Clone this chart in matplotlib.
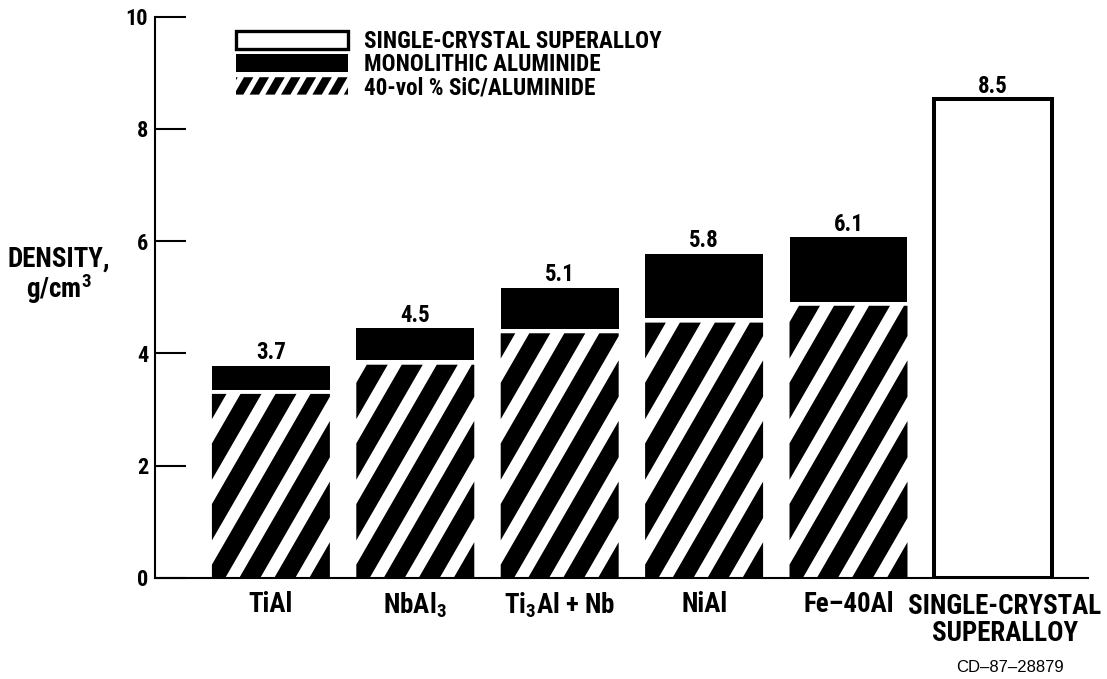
import matplotlib
matplotlib.use('Agg')
import numpy as np
import matplotlib.pyplot as plt
import matplotlib.transforms as mtransforms
from matplotlib import font_manager as fm
from matplotlib.patches import Polygon, Patch
from matplotlib.legend_handler import HandlerBase

# ---------------- data ----------------
categories = ["TiAl", "NbAl$_3$", "Ti$_3$Al + Nb", "NiAl", "Fe\u201340Al",
              "SINGLE-CRYSTAL\nSUPERALLOY"]
monolithic = [3.78, 4.45, 5.17, 5.77, 6.07]      # monolithic aluminide density
composite = [3.28, 3.80, 4.36, 4.55, 4.85]       # 40-vol % SiC/aluminide density
superalloy = [8.53]                               # single-crystal superalloy
value_labels = ["3.7", "4.5", "5.1", "5.8", "6.1", "8.5"]
yticks = [0, 2, 4, 6, 8, 10]
legend_labels = ["SINGLE-CRYSTAL SUPERALLOY", "MONOLITHIC ALUMINIDE",
                 "40-vol % SiC/ALUMINIDE"]

# ---------------- fonts (condensed bold if available) ----------------
entries = fm.fontManager.ttflist
names = {f.name for f in entries}
STRETCH = 'normal'
if 'Liberation Sans Narrow' in names:
    COND, K_NUM, K_TXT, K_LEG = 'Liberation Sans Narrow', 1.0, 1.0, 1.0
elif 'Roboto Condensed' in names:
    COND, K_NUM, K_TXT, K_LEG = 'Roboto Condensed', 0.97, 1.05, 1.0
elif 'Open Sans Condensed' in names:
    COND, K_NUM, K_TXT, K_LEG = 'Open Sans Condensed', 0.95, 1.0, 0.95
elif any(f.name == 'DejaVu Sans' and f.stretch == 'condensed' for f in entries):
    COND, K_NUM, K_TXT, K_LEG = 'DejaVu Sans', 0.86, 0.9, 0.8
    STRETCH = 'condensed'
else:
    COND, K_NUM, K_TXT, K_LEG = 'Liberation Sans', 0.9, 0.84, 0.85

plt.rcParams['font.family'] = [COND, 'DejaVu Sans']
plt.rcParams['font.weight'] = 'bold'
plt.rcParams['font.stretch'] = STRETCH
spec = f'{COND}:bold' + (':condensed' if STRETCH == 'condensed' else '')
plt.rcParams['mathtext.fontset'] = 'custom'
for k in ['rm', 'bf', 'it', 'sf']:
    plt.rcParams[f'mathtext.{k}'] = spec


# ---------------- helpers for slanted stripe fill ----------------
def clip_poly(poly, xmin, xmax, ymin, ymax):
    def clip(pts, inside, inter):
        out = []
        for i in range(len(pts)):
            cur, prev = pts[i], pts[i - 1]
            if inside(cur):
                if not inside(prev):
                    out.append(inter(prev, cur))
                out.append(cur)
            elif inside(prev):
                out.append(inter(prev, cur))
        return out

    def ix(p, q, x):
        t = (x - p[0]) / (q[0] - p[0])
        return (x, p[1] + t * (q[1] - p[1]))

    def iy(p, q, y):
        t = (y - p[1]) / (q[1] - p[1])
        return (p[0] + t * (q[0] - p[0]), y)

    pts = list(poly)
    edges = [
        (lambda p: p[0] >= xmin, lambda p, q: ix(p, q, xmin)),
        (lambda p: p[0] <= xmax, lambda p, q: ix(p, q, xmax)),
        (lambda p: p[1] >= ymin, lambda p, q: iy(p, q, ymin)),
        (lambda p: p[1] <= ymax, lambda p, q: iy(p, q, ymax)),
    ]
    for inside, inter in edges:
        if not pts:
            break
        pts = clip(pts, inside, inter)
    return pts


def stripes(width, height, period, black, angle_deg, phase=0.0):
    shift = height / np.tan(np.radians(angle_deg))
    polys = []
    kmin = int(np.floor((-shift - black - phase) / period)) - 1
    kmax = int(np.ceil((width - phase) / period)) + 1
    for k in range(kmin, kmax + 1):
        x0 = phase + k * period
        quad = [(x0, 0), (x0 + black, 0), (x0 + black + shift, height),
                (x0 + shift, height)]
        c = clip_poly(quad, 0, width, 0, height)
        if len(c) >= 3:
            polys.append(c)
    return polys


class StripeHandler(HandlerBase):
    def create_artists(self, legend, orig_handle, xdescent, ydescent,
                       width, height, fontsize, trans):
        arts = []
        for poly in stripes(width, height, 11.3, 6.8, 60, phase=-1.5):
            pts = [(x - xdescent, y - ydescent) for x, y in poly]
            arts.append(Polygon(pts, closed=True, facecolor='black',
                                edgecolor='none', transform=trans))
        return arts


# ---------------- figure ----------------
W, H = 1107, 679
fig = plt.figure(figsize=(W / 100, H / 100), dpi=100)
ax_px = dict(left=155, right=1088, top=16.7, bottom=578)
ax = fig.add_axes([ax_px['left'] / W, (H - ax_px['bottom']) / H,
                   (ax_px['right'] - ax_px['left']) / W,
                   (ax_px['bottom'] - ax_px['top']) / H])
xlim = (-0.8026, 5.6586)
ylim = (0, 10)
ax.set_xlim(*xlim)
ax.set_ylim(*ylim)

sx = (ax_px['right'] - ax_px['left']) / (xlim[1] - xlim[0])   # px per x unit
sy = (ax_px['bottom'] - ax_px['top']) / (ylim[1] - ylim[0])   # px per y unit

pos = np.arange(len(categories))
bw = 0.817
gap = 0.075

# hatched composite bars
for p, c in zip(pos[:5], composite):
    ax.bar(p, c, bw, color='white', linewidth=0, zorder=2)
    x_left = p - bw / 2
    for poly in stripes(bw * sx, c * sy, 35, 21, 60, phase=-7.7):
        pts = [(x_left + px / sx, py / sy) for px, py in poly]
        ax.add_patch(Polygon(pts, closed=True, facecolor='black',
                             edgecolor='none', zorder=3))

# monolithic black bars
mono = np.array(monolithic)
comp = np.array(composite)
ax.bar(pos[:5], mono - comp - gap, bw, bottom=comp + gap, color='black',
       linewidth=0, zorder=3)

# superalloy open bar
ax.bar(pos[5], superalloy[0], bw, facecolor='white', edgecolor='black',
       linewidth=2.9, zorder=3)

# value labels
tops = list(monolithic) + list(superalloy)
for p, t, lab in zip(pos, tops, value_labels):
    ax.annotate(lab, (p, t), xytext=(0, 4.8), textcoords='offset points',
                ha='center', va='baseline', fontsize=17 * K_NUM,
                fontweight='bold')

# axes styling
for s in ['top', 'right']:
    ax.spines[s].set_visible(False)
for s in ['left', 'bottom']:
    ax.spines[s].set_linewidth(1.5)
    ax.spines[s].set_zorder(5)
ax.set_yticks(yticks)
ax.set_yticklabels([str(v) for v in yticks])
ax.tick_params(axis='y', direction='in', length=22.3, width=1.5, pad=5,
               labelsize=16.5 * K_NUM)
ax.set_xticks(pos)
ax.set_xticklabels(categories, fontsize=18.5 * K_TXT, linespacing=1.02)
ax.tick_params(axis='x', length=0, pad=9)
# the last category label sits a little right of its bar in the original
last = ax.get_xticklabels()[-1]
last.set_transform(last.get_transform() +
                   mtransforms.ScaledTranslation(12 / 100, -2 / 100,
                                                 fig.dpi_scale_trans))

# legend
h_white = Patch(facecolor='white', edgecolor='black', linewidth=2.4)
h_black = Patch(facecolor='black', edgecolor='black', linewidth=0)
h_hatch = Patch(facecolor='none', edgecolor='none')
leg_fs = 16.7 * K_LEG
px_per_fs = leg_fs * 100 / 72
ax.legend([h_white, h_black, h_hatch], legend_labels,
          handler_map={h_hatch: StripeHandler()},
          loc='upper left', bbox_to_anchor=(236 / W, 1 - 30.0 / H),
          bbox_transform=fig.transFigure, frameon=False,
          borderpad=0, borderaxespad=0,
          handlelength=112 / px_per_fs,
          handleheight=18 / px_per_fs,
          handletextpad=16 / px_per_fs,
          labelspacing=0.0,
          prop=dict(family=COND, weight='bold', size=leg_fs,
                    stretch=STRETCH))

# y-axis title
fig.text(59 / W, 1 - 276 / H, "DENSITY,\ng/cm$^3$", ha='center', va='center',
         multialignment='center', fontsize=18.5 * K_TXT, fontweight='bold',
         linespacing=0.95)

# figure code
fig.text(1010 / W, 1 - 667 / H, "CD\u201387\u201328879", ha='center',
         va='center', fontsize=12, family='Liberation Sans',
         fontweight='normal', stretch='normal')

fig.savefig('out.png', dpi=100)
